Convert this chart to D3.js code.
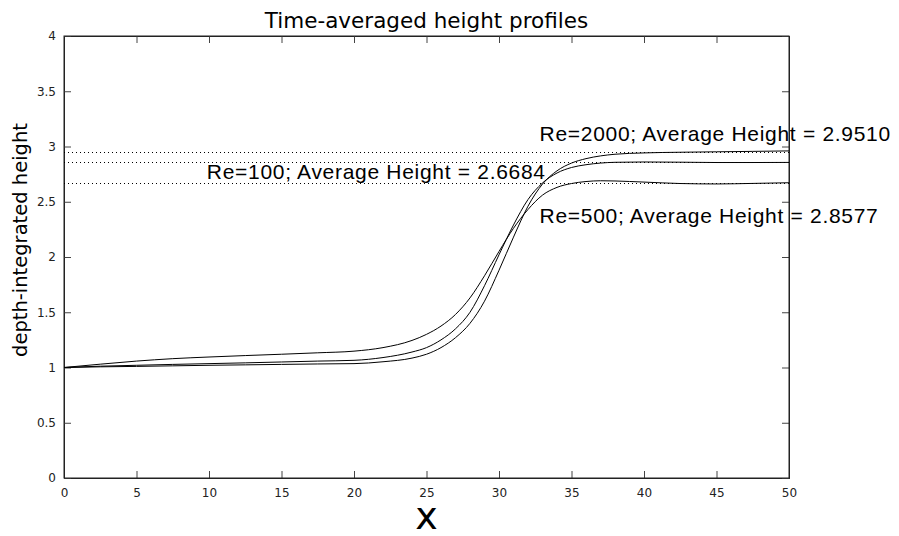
<!DOCTYPE html>
<html>
<head>
<meta charset="utf-8">
<script src="https://cdn.jsdelivr.net/npm/d3@7/dist/d3.min.js"></script>
<style>
  html, body { margin: 0; padding: 0; background: #fff; }
  svg { display: block; }
</style>
</head>
<body>
<svg id="chart" width="899" height="536"></svg>
<script>
// Streamwise positions where the profiles are sampled
const xs = [0, 2.5, 5, 7.5, 10, 12.5, 15, 17.5, 20, 22, 24, 25, 26, 27, 28, 29, 30, 31, 32, 33, 34, 35, 36, 37, 38, 40, 42.5, 45, 47.5, 50];

// Time-averaged depth-integrated height for each Reynolds number
const re100 = [1.000, 1.030, 1.058, 1.080, 1.095, 1.108, 1.120, 1.133, 1.148, 1.180, 1.245, 1.300, 1.375, 1.480, 1.630, 1.830, 2.050, 2.260, 2.430, 2.560, 2.630, 2.665, 2.683, 2.690, 2.688, 2.678, 2.665, 2.661, 2.666, 2.672];
const re500 = [1.000, 1.012, 1.020, 1.028, 1.035, 1.042, 1.050, 1.058, 1.065, 1.090, 1.140, 1.180, 1.250, 1.350, 1.500, 1.740, 2.020, 2.290, 2.520, 2.670, 2.760, 2.810, 2.835, 2.850, 2.857, 2.860, 2.858, 2.855, 2.855, 2.856];
const re2000 = [1.000, 1.006, 1.010, 1.015, 1.020, 1.024, 1.028, 1.032, 1.035, 1.052, 1.085, 1.120, 1.180, 1.270, 1.400, 1.600, 1.880, 2.180, 2.460, 2.660, 2.780, 2.850, 2.890, 2.915, 2.930, 2.942, 2.948, 2.952, 2.956, 2.960];

// Spatial averages, drawn as dotted reference lines
const avgNames = ["Re=2000", "Re=500", "Re=100"];
const avgValues = [2.9510, 2.8577, 2.6684];

// Annotation anchors in data coordinates (left edge, vertical centre)
const labelX = [32.8, 32.8, 9.85];
const labelY = [3.12, 2.37, 2.77];

const xTicks = d3.range(0, 51, 5);
const yTicks = d3.range(0, 4.01, 0.5);

const W = 899, H = 536;
const m = { left: 64, top: 36, right: 110, bottom: 58 };
const pw = W - m.left - m.right, ph = H - m.top - m.bottom;

const svg = d3.select("#chart");
const g = svg.append("g").attr("transform", `translate(${m.left},${m.top})`);

const x = d3.scaleLinear().domain([0, 50]).range([0, pw]);
const y = d3.scaleLinear().domain([0, 4]).range([ph, 0]);

const tickFont = "'DejaVu Sans', sans-serif";

// Ticks pointing into the plot on all four sides
g.append("g").attr("transform", `translate(0,${ph})`)
  .call(d3.axisBottom(x).tickValues(xTicks).tickSize(-7).tickPadding(10).tickFormat(d3.format("d")));
g.append("g").attr("transform", `translate(0,0)`)
  .call(d3.axisTop(x).tickValues(xTicks).tickSize(-7).tickFormat(""));
g.append("g")
  .call(d3.axisLeft(y).tickValues(yTicks).tickSize(-7).tickPadding(8).tickFormat(d => d3.format("")(d)));
g.append("g").attr("transform", `translate(${pw},0)`)
  .call(d3.axisRight(y).tickValues(yTicks).tickSize(-7).tickFormat(""));

g.selectAll(".domain").attr("stroke", "#222").attr("stroke-width", 1);
g.selectAll(".tick line").attr("stroke", "#444").attr("stroke-width", 1);
g.selectAll(".tick text").attr("fill", "#222").style("font-family", tickFont).style("font-size", "12px");

// Plot frame
g.append("rect").attr("x", 0).attr("y", 0).attr("width", pw).attr("height", ph)
  .attr("fill", "none").attr("stroke", "#222").attr("stroke-width", 1);

// Dotted lines at the average heights
g.selectAll(".avg").data(avgValues).join("line")
  .attr("class", "avg")
  .attr("x1", x(0)).attr("x2", x(50))
  .attr("y1", d => Math.round(y(d)) + 0.5).attr("y2", d => Math.round(y(d)) + 0.5)
  .attr("stroke", "#000").attr("stroke-width", 1).attr("stroke-dasharray", "1,3");

// Height profiles
const line = d3.line().x(d => x(d[0])).y(d => y(d[1])).curve(d3.curveMonotoneX);
[re100, re500, re2000].forEach(vals => {
  g.append("path")
    .datum(xs.map((v, i) => [v, vals[i]]))
    .attr("d", line)
    .attr("fill", "none").attr("stroke", "#000").attr("stroke-width", 1);
});

// Annotations
g.selectAll(".ann").data(avgNames).join("text")
  .attr("class", "ann")
  .attr("x", (d, i) => x(labelX[i]))
  .attr("y", (d, i) => y(labelY[i]))
  .attr("dy", "0.35em")
  .attr("fill", "#000")
  .style("font-family", "'Liberation Sans', Arial, sans-serif")
  .style("font-size", "21px")
  .style("letter-spacing", "0.7px")
  .text((d, i) => `${d}; Average Height = ${avgValues[i].toFixed(4)}`);

// Title and axis labels
svg.append("text").attr("x", m.left + pw / 2).attr("y", 28)
  .attr("text-anchor", "middle").attr("fill", "#000")
  .style("font-family", tickFont).style("font-size", "21.5px")
  .text("Time-averaged height profiles");

svg.append("text").attr("x", m.left + pw / 2).attr("y", 529)
  .attr("text-anchor", "middle").attr("fill", "#000")
  .style("font-family", tickFont).style("font-size", "38px")
  .text("x");

svg.append("text")
  .attr("transform", `translate(27,240) rotate(-90)`)
  .attr("text-anchor", "middle").attr("fill", "#000")
  .style("font-family", tickFont).style("font-size", "19.5px")
  .text("depth-integrated height");
</script>
</body>
</html>
